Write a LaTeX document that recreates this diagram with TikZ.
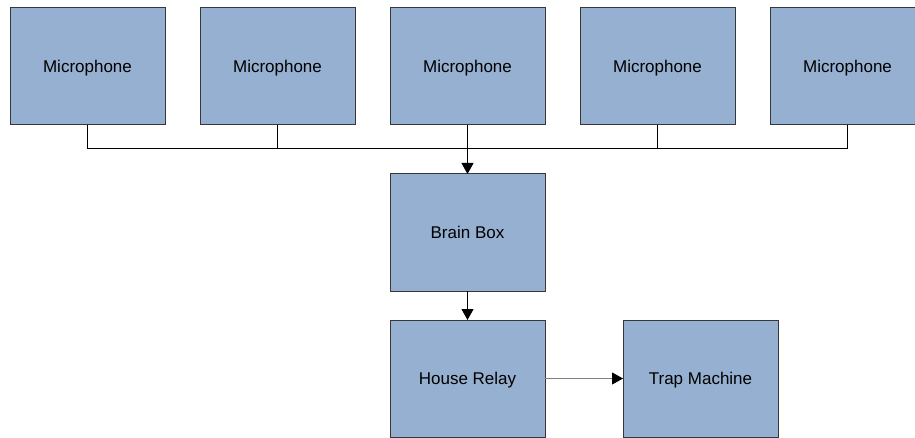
\documentclass[tikz,border=0pt]{standalone}
\usepackage{fontspec}
\setmainfont{Liberation Sans}
\usepackage{tikz}
\usetikzlibrary{positioning,arrows.meta}
\definecolor{boxblue}{RGB}{149,176,208}
\definecolor{boxedge}{RGB}{55,55,55}
\tikzset{
  unit/.style={draw=boxedge, line width=1pt, fill=boxblue, minimum width=155pt, minimum height=117pt, inner sep=0pt, outer sep=0pt, text height=12pt, text depth=0pt, font=\fontsize{17}{20}\selectfont},
  wire/.style={line width=0.9pt},
  feed/.style={wire, -{Triangle[length=11pt, width=12pt, color=black]}}
}

\begin{document}
\begin{tikzpicture}[x=1pt, y=-1pt]
				\useasboundingbox (0,0) rectangle (915,438);
				% microphones
				\foreach \i/\x in {1/87.5, 2/277.5, 3/467.5, 4/657.5, 5/847.5}
					\node[unit] (mic\i) at (\x,66.5) {Microphone};

				% processing chain
				\node[unit, below=49pt of mic3] (brain) {Brain Box};
				\node[unit, below=29pt of brain] (relay) {House Relay};
				\node[unit, right=78pt of relay] (trap) {Trap Machine};

				% bus
				\coordinate (bus) at (467.5,148);
				\foreach \i in {1,...,5}
					\draw[wire] (mic\i.south) |- (bus);
				\draw[feed] (bus) -- (brain.north);
				\draw[feed] (brain.south) -- (relay.north);
				\draw[feed, draw=gray] (relay.east) -- (trap.west);
			\end{tikzpicture}
\end{document}
